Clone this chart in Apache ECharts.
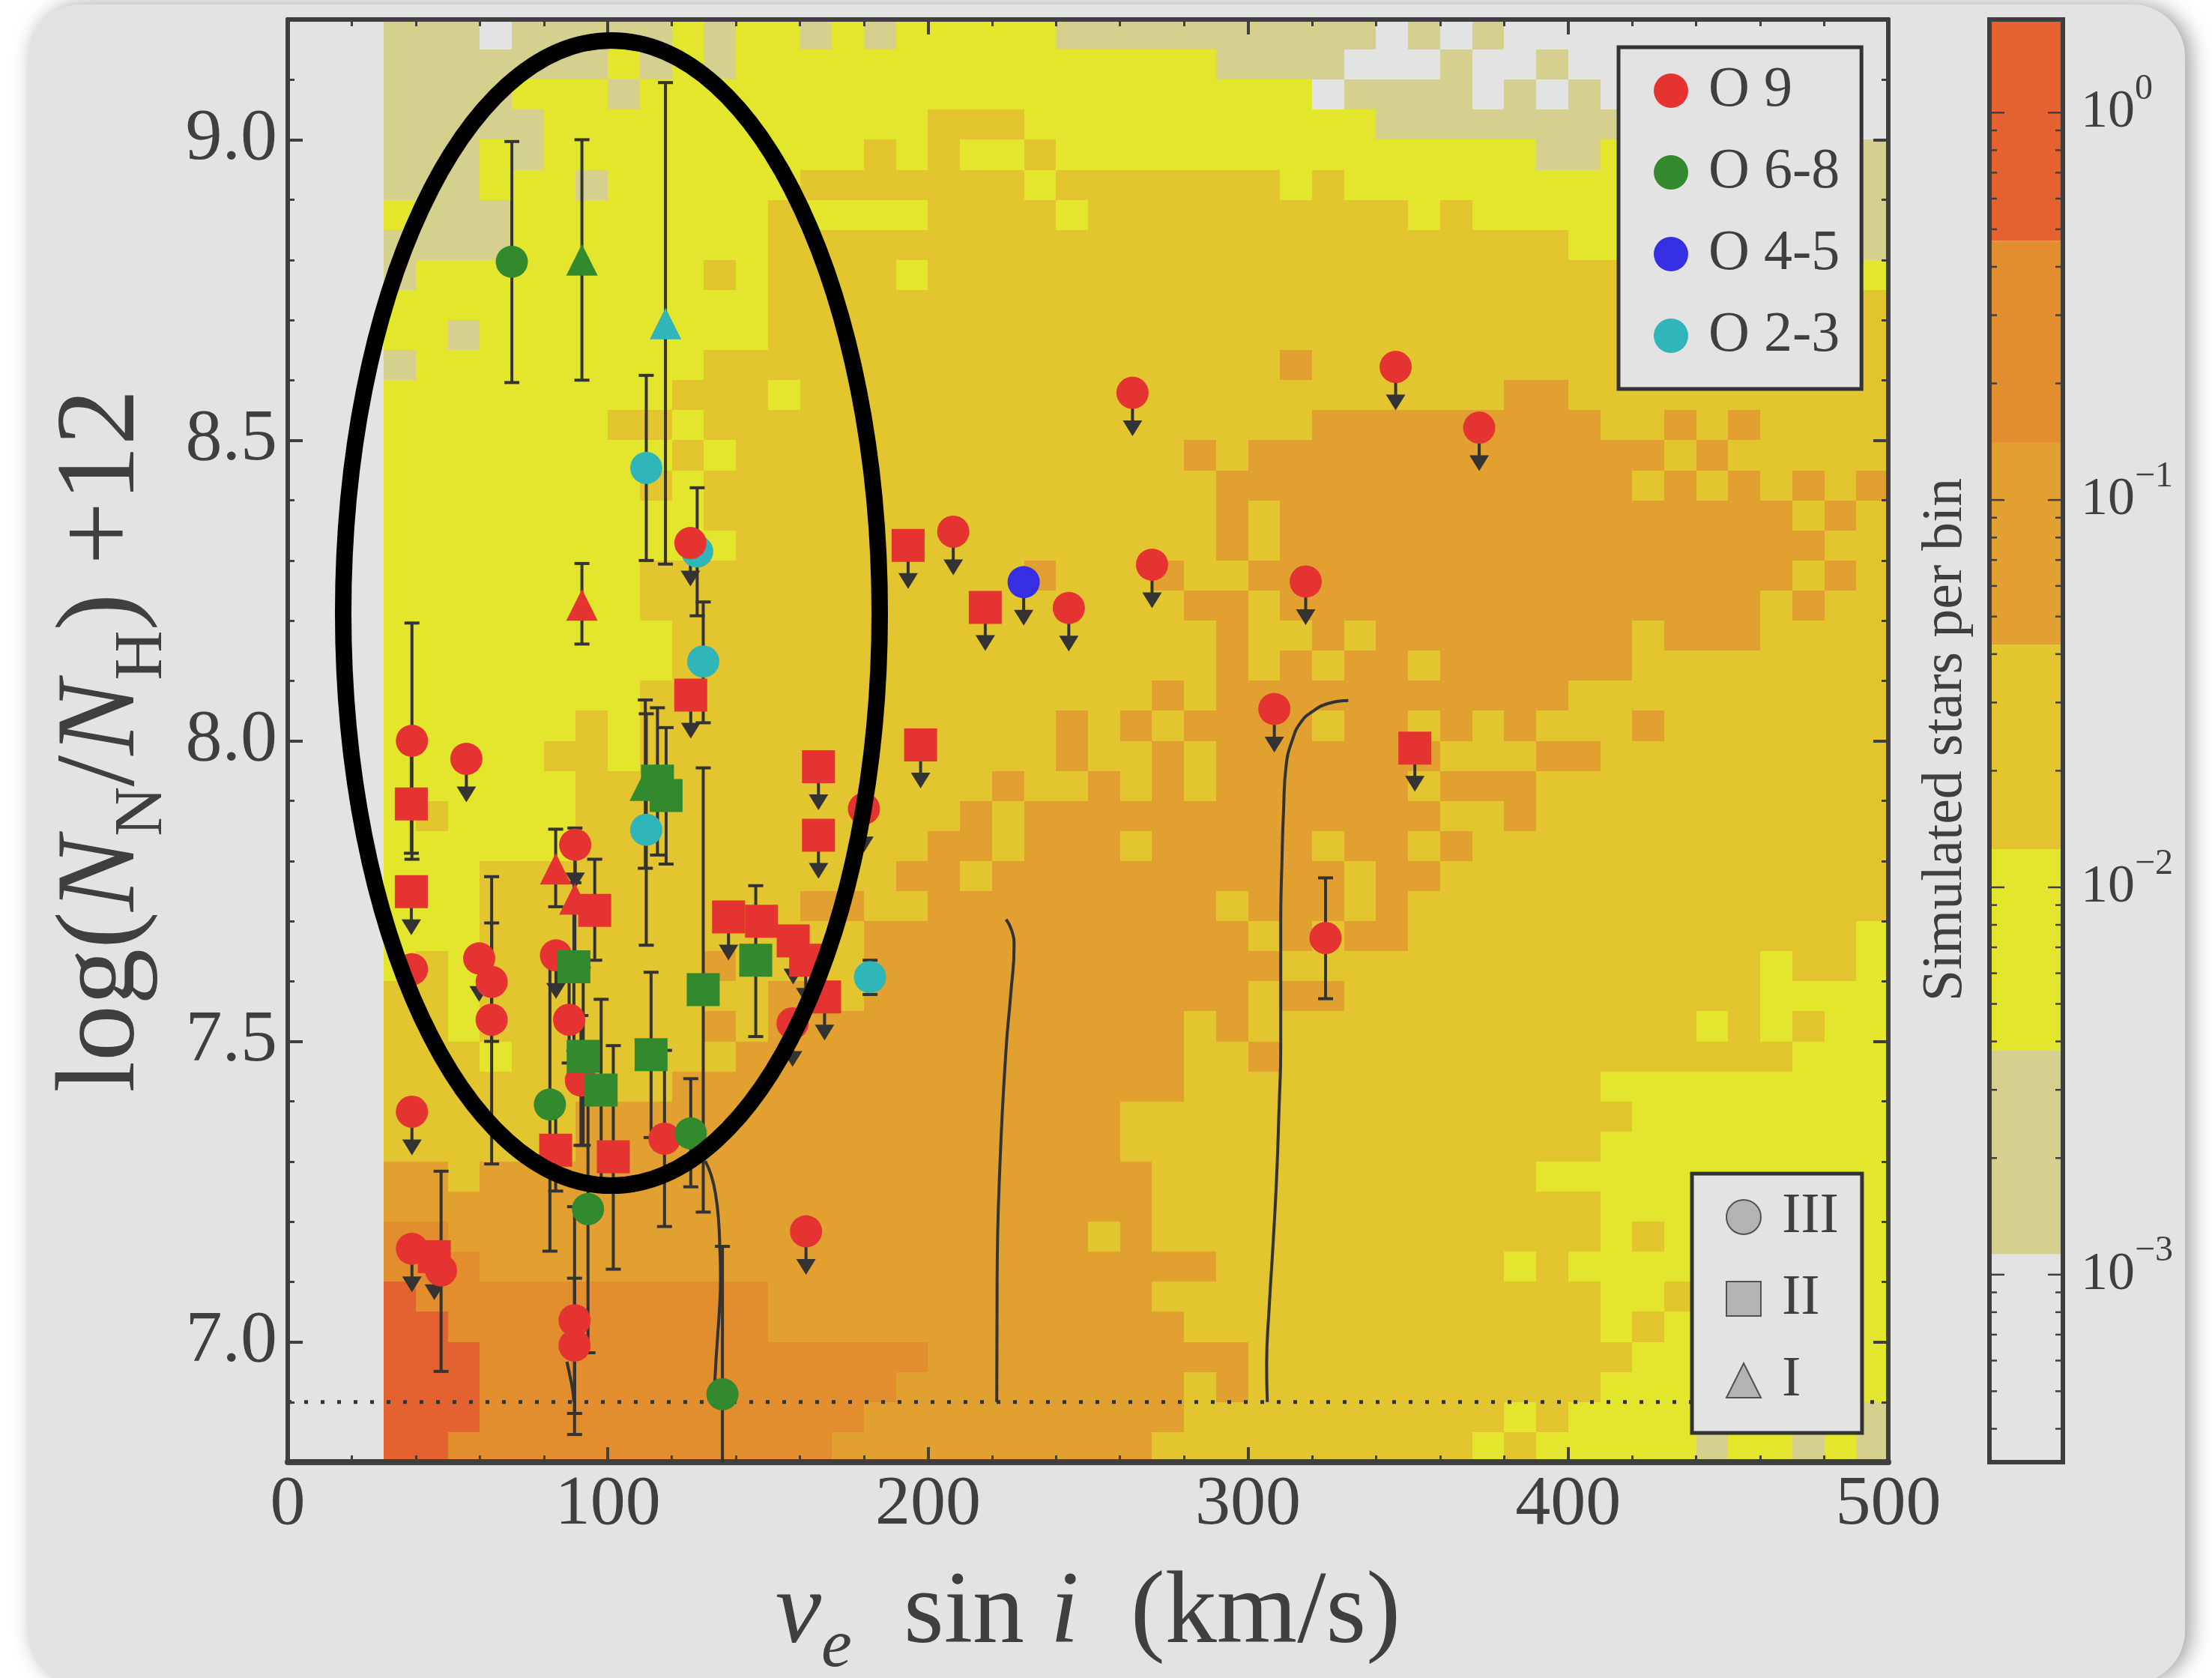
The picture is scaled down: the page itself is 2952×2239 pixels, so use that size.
<!DOCTYPE html>
<html>
<head>
<meta charset="utf-8">
<title>Nitrogen abundance versus projected rotation</title>
<style>html,body{margin:0;padding:0;background:#fff}#c{width:2952px;height:2239px}</style>
<script src="https://cdn.jsdelivr.net/npm/echarts@6/dist/echarts.min.js"></script>
</head>
<body>
<div id="c"></div>
<script>
// ---- histogram: one string per row, top row first; tokens are level:endColumn
const binX0 = 30, binDX = 10, binYTop = 9.2, binDY = 0.05;
const histogramRows = [
"1:3 0:4 1:9 2:10 1:11 2:13 1:14 2:15 1:16 2:21 1:31 0:32 1:33 0:34 1:35 0:47",
"1:7 2:8 1:9 2:10 1:11 2:26 1:30 0:33 1:34 0:36 1:37 0:47",
"1:4 2:7 1:8 2:29 0:30 1:34 0:35 1:36 0:37 1:38 0:47",
"1:5 2:17 3:20 2:31 1:40 0:47",
"1:3 2:4 1:5 2:15 3:16 2:17 3:18 2:20 3:21 2:36 1:38 2:46 1:47",
"1:3 2:6 1:7 2:13 3:20 2:21 3:28 2:29 3:30 2:46 1:47",
"2:1 1:4 2:12 3:13 2:17 3:21 2:22 3:32 2:33 3:34 2:46 1:47",
"1:4 2:12 3:37 2:46 1:47",
"1:1 2:10 3:11 2:12 3:16 2:17 3:46 2:47",
"2:12 3:47",
"2:2 1:3 2:12 3:47",
"1:1 2:10 3:28 4:29 3:47",
"2:9 3:12 2:13 3:35 4:37 3:47",
"2:7 3:9 2:10 3:29 4:38 3:40 4:41 3:42 4:43 3:47",
"2:9 3:10 2:11 3:25 4:26 3:27 4:40 3:41 4:42 3:47",
"2:8 3:9 2:10 3:26 4:39 3:40 4:41 3:42 4:43 3:44 4:45 3:46 4:47",
"2:10 3:26 4:27 3:28 4:44 3:45 4:46 3:47",
"2:11 3:26 4:27 3:28 4:45 3:47",
"2:8 3:20 4:21 3:24 4:25 3:27 4:44 3:45 4:46 3:47",
"2:8 3:25 4:27 3:28 4:43 3:44 4:45 3:47",
"2:9 3:26 4:27 3:29 4:30 3:31 4:39 3:40 4:43 3:47",
"2:9 3:26 4:27 3:28 4:29 3:30 4:32 3:33 4:39 3:47",
"2:8 3:24 4:25 3:26 4:37 3:47",
"2:6 3:7 2:8 3:21 4:22 3:23 4:24 3:25 4:29 3:30 4:32 3:33 4:34 3:35 4:36 3:39 4:40 3:47",
"2:5 3:7 2:8 3:21 4:22 3:24 4:25 3:26 4:33 3:36 4:38 3:47",
"2:6 3:19 4:20 3:22 4:23 3:24 4:25 3:26 4:32 3:33 4:36 3:47",
"2:1 3:2 2:6 3:18 4:19 3:20 4:33 3:35 4:36 3:47",
"2:6 3:17 4:19 3:20 4:23 3:24 4:29 3:30 4:32 3:33 4:34 3:47",
"2:3 3:16 4:18 3:19 4:30 3:31 4:33 3:47",
"2:3 3:13 4:15 3:17 4:26 3:27 4:30 3:31 4:32 3:47",
"2:3 3:15 4:27 3:28 4:29 3:30 4:32 3:46 2:47",
"2:1 3:2 2:3 3:10 4:11 3:15 4:28 3:43 2:44 3:46 2:47",
"3:2 2:3 3:12 4:14 3:15 4:27 3:28 4:30 3:43 2:47",
"3:2 2:3 3:10 4:11 3:12 4:25 3:26 4:27 3:41 2:42 3:43 2:44 3:45 2:47",
"3:3 2:4 3:11 4:25 3:27 4:28 3:44 2:47",
"3:9 4:25 3:38 2:47",
"3:6 4:23 3:39 2:47",
"3:6 4:23 3:38 2:47",
"4:2 3:3 4:24 3:36 2:47",
"4:24 3:38 2:47",
"5:2 4:22 3:23 4:24 3:38 2:39 3:40 2:47",
"5:3 4:26 3:35 2:36 3:37 2:47",
"6:1 5:12 4:24 3:38 2:40 3:41 2:47",
"6:2 5:12 4:25 3:38 2:39 3:40 2:47",
"6:3 5:17 4:27 3:39 2:47",
"6:3 5:16 4:25 3:26 4:27 3:38 2:47",
"6:3 5:15 4:25 3:35 2:36 3:37 2:46 1:47",
"6:2 5:14 4:24 3:34 2:35 3:36 2:41 1:42 2:44 1:45 2:46 1:47"
];
const levelColors = [null, '#d6d08e', '#e4e62e', '#e2c52f', '#e2a030', '#e38e2e', '#e4622f'];

// ---- stars: [vsini, logN, low, high] or [vsini, logN, null, null, 1] for an upper limit
const L = 1;
const o9_III = [
 [38.8,8.0,7.803,8.196],[55.8,7.97,null,null,L],[38.8,7.62],[59.8,7.638,null,null,L],
 [63.7,7.599,7.5,7.697],[63.7,7.536,7.296,7.774],[89.8,7.827,null,null,L],[83.8,7.643,null,null,L],
 [87.9,7.536,7.464,7.608],[91.6,7.435,7.327,7.543],[38.8,7.383,null,null,L],[117.7,7.338,7.192,7.485],
 [47.9,7.119,6.951,7.284],[38.8,7.155,null,null,L],[161.9,7.184,null,null,L],[89.6,7.036,6.846,7.225],
 [89.6,6.994,6.881,7.106],[125.8,8.329,null,null,L],[207.9,8.348,null,null,L],[157.7,7.53,null,null,L],
 [180,7.887,null,null,L],[244,8.221,null,null,L],[270,8.293,null,null,L],[318,8.265,null,null,L],
 [308.2,8.053,null,null,L],[324.2,7.672,7.571,7.772],[263.9,8.579,null,null,L],[346.1,8.622,null,null,L],
 [372.2,8.521,null,null,L]
];
const o9_II = [
 [38.6,7.895,7.813,7.98],[38.6,7.749,null,null,L],[95.9,7.718,7.635,7.803],[83.7,7.319,7.251,7.39],
 [101.7,7.308,7.121,7.493],[125.9,8.076,null,null,L],[137.7,7.707,null,null,L],[148,7.7],
 [157.9,7.667,null,null,L],[161.8,7.635,null,null,L],[167.7,7.574,null,null,L],[165.8,7.957,null,null,L],
 [165.8,7.843,null,null,L],[197.7,7.993,null,null,L],[193.8,8.325,null,null,L],[217.9,8.222,null,null,L],
 [352.1,7.988,null,null,L],[45.8,7.142,null,null,L]
];
const o9_I = [[91.9,8.226,8.161,8.295],[83.7,7.787,7.724,7.853],[89.7,7.737,7.62,7.855]];
const o68_III = [[70,8.797,8.596,8.997],[81.9,7.395,7.151,7.639],[93.8,7.221,6.982,7.46],[135.8,6.913,6.667,7.159],[125.9,7.347,7.258,7.438]];
const o68_II = [[115.5,7.933,7.81,8.055],[118.2,7.909,7.795,8.022],[129.8,7.586,7.216,7.955],[146.2,7.635,7.508,7.759],[89.4,7.624,7.484,7.764],[92.3,7.475,7.327,7.623],[113.5,7.478,7.34,7.615],[97.9,7.419,7.268,7.57]];
const o68_I = [[91.9,8.8,8.6,9.0],[111.7,7.926,7.788,8.068]];
const o45_III = [[229.9,8.264,null,null,L]];
const o23_III = [[112,8.454,8.30,8.608],[127.9,8.315,8.208,8.421],[129.8,8.132,8.03,8.231],[112,7.852,7.66,8.045],[181.9,7.607,7.578,7.635]];
const o23_I = [[118,8.694,8.294,9.095]];

// ---- model tracks and the detection floor
const track1 = [[87.2,6.967],[88.3,6.94],[89,6.92],[89.4,6.9]];
const track2 = [[130.4,7.301],[132.3,7.277],[133.7,7.244],[134.6,7.201],[135,7.153],[135.2,7.105],[134.9,7.058],[134.3,7.01],[133.7,6.962],[133.1,6.9]];
const track3 = [[224.4,7.703],[226.2,7.684],[226.9,7.658],[225.9,7.581],[224.4,7.487],[222.5,7.296],[221.6,7.105],[221.5,6.9]];
const track4 = [[331.3,8.067],[325,8.062],[319.9,8.048],[316.5,8.031],[314,8.004],[311.9,7.959],[311.1,7.887],[310.6,7.803],[310.2,7.692],[310.2,7.487],[309.7,7.392],[308.9,7.272],[307.7,7.153],[306.6,7.058],[305.8,6.962],[306,6.9]];
const floorLine = [[0,6.9],[500,6.9]];

// ---- ticks and colour bar
const yMajorTicks = [7.0,7.5,8.0,8.5,9.0];
const cbarEdges = [1.74,0.467,0.141,0.0423,0.01255,0.0038,0.00113,0.000328];
const cbarLevels = [6,5,4,3,2,1,0];
const cbarMajor = [1,0.1,0.01,0.001];
const cbarMinor = [0.9,0.8,0.7,0.6,0.5,0.4,0.3,0.2,0.09,0.08,0.07,0.06,0.05,0.04,0.03,0.02,0.009,0.008,0.007,0.006,0.005,0.004,0.003,0.002,0.0009,0.0008,0.0007,0.0006,0.0005,0.0004];

const SERIF = '"Liberation Serif","Times New Roman",serif';
const INK = '#3f3f3f', DARK = '#333333', BG = '#e3e3e3';
const RED = '#e53331', GREEN = '#338a2e', BLUE = '#352ee3', TEAL = '#30b5b8';

const cells = [];
histogramRows.forEach(function (row, j) {
  let start = 0;
  row.split(' ').forEach(function (tok) {
    const p = tok.split(':'), lev = +p[0], end = +p[1];
    for (let c = start; c < end; c++) if (lev > 0) cells.push([binX0 + c * binDX, binYTop - j * binDY, lev]);
    start = end;
  });
});

function renderCell(params, api) {
  const x = api.value(0), y = api.value(1);
  const a = api.coord([x, y]), b = api.coord([x + binDX, y - binDY]);
  const x0 = Math.round(a[0]), y0 = Math.round(a[1]);
  return { type: 'rect', shape: { x: x0, y: y0, width: Math.round(b[0]) - x0, height: Math.round(b[1]) - y0 },
           style: { fill: levelColors[api.value(2)] } };
}

const allStars = [].concat(o23_III, o23_I, o9_III, o68_III, o9_I, o68_I, o45_III, o9_II, o68_II);
function renderBars(params, api) {
  const s = allStars[params.dataIndex];
  const c = api.coord([s[0], s[1]]);
  const line = { stroke: DARK, lineWidth: 4 };
  const kids = [];
  if (s[4]) {
    kids.push({ type: 'line', shape: { x1: c[0], y1: c[1], x2: c[0], y2: c[1] + 42 }, style: { stroke: DARK, lineWidth: 4 } });
    kids.push({ type: 'polygon', shape: { points: [[c[0] - 13, c[1] + 37], [c[0] + 13, c[1] + 37], [c[0], c[1] + 58]] }, style: { fill: DARK } });
  } else if (s[2] != null) {
    const lo = api.coord([s[0], s[2]]), hi = api.coord([s[0], s[3]]);
    kids.push({ type: 'line', shape: { x1: c[0], y1: lo[1], x2: c[0], y2: hi[1] }, style: line });
    kids.push({ type: 'line', shape: { x1: c[0] - 10, y1: lo[1], x2: c[0] + 10, y2: lo[1] }, style: line });
    kids.push({ type: 'line', shape: { x1: c[0] - 10, y1: hi[1], x2: c[0] + 10, y2: hi[1] }, style: line });
  }
  return { type: 'group', children: kids };
}

function starSeries(name, data, symbol, size, color, z) {
  return { type: 'scatter', name: name, xAxisIndex: 0, yAxisIndex: 0, symbol: symbol, symbolSize: size,
           data: data.map(function (p) { return [p[0], p[1]]; }), itemStyle: { color: color, opacity: 1 }, z: z,
           silent: true, animation: false };
}
function trackSeries(data) {
  return { type: 'line', xAxisIndex: 0, yAxisIndex: 0, data: data, showSymbol: false, symbol: 'none', smooth: true,
           lineStyle: { color: DARK, width: 4 }, z: 3, silent: true, animation: false };
}
function classSeries(name, symbol) {
  return { type: 'scatter', name: name, xAxisIndex: 0, yAxisIndex: 0, symbol: symbol, data: [],
           itemStyle: { color: '#a6a6a6', borderColor: DARK, borderWidth: 4 } };
}
function mainY(position, major, withLabels) {
  const y = { type: 'value', gridIndex: 0, position: position, min: 6.8, max: 9.2, z: 4, splitLine: { show: false },
              axisLine: { show: true, onZero: false, lineStyle: { color: INK, width: 6 } } };
  if (major) {
    y.axisTick = { show: true, inside: true, length: 20, customValues: yMajorTicks, lineStyle: { color: INK, width: 4 } };
    y.axisLabel = withLabels ? { show: true, customValues: yMajorTicks, margin: 14, color: INK, fontFamily: SERIF, fontSize: 98,
                                 formatter: function (v) { return v.toFixed(1); } } : { show: false };
  } else {
    y.interval = 0.1;
    y.axisTick = { show: true, inside: true, length: 9, lineStyle: { color: INK, width: 3 } };
    y.axisLabel = { show: false };
  }
  return y;
}

const yTitle = mainY('left', true, true);
yTitle.name = '{a|log(}{i|N}{s|N}{a|/}{i|N}{s|H}{a|) +12}';
yTitle.nameLocation = 'middle';
yTitle.nameRotate = 90;
yTitle.nameGap = 142;
yTitle.nameTextStyle = { rich: {
  a: { fontFamily: SERIF, fontSize: 150, color: INK, lineHeight: 196, verticalAlign: 'middle' },
  i: { fontFamily: SERIF, fontSize: 150, fontStyle: 'italic', color: INK, lineHeight: 196, verticalAlign: 'middle' },
  s: { fontFamily: SERIF, fontSize: 92, color: INK, lineHeight: 66, verticalAlign: 'bottom' }
} };

const option = {
  animation: false,
  backgroundColor: '#ffffff',
  grid: [
    { left: 384, top: 26, width: 2136, height: 1925, containLabel: false, outerBoundsMode: 'none' },
    { left: 2655, top: 26, width: 98, height: 1925, containLabel: false, outerBoundsMode: 'none' }
  ],
  legend: [
    { orient: 'vertical', left: 2160, top: 63, padding: [20, 29, 33, 47], itemWidth: 46, itemHeight: 46, itemGap: 33,
      backgroundColor: BG, borderColor: DARK, borderWidth: 5, selectedMode: false, z: 9,
      textStyle: { fontFamily: SERIF, fontSize: 76, color: INK, padding: [0, 0, 0, 22] },
      data: [{ name: 'O 9', icon: 'circle' }, { name: 'O 6-8', icon: 'circle' }, { name: 'O 4-5', icon: 'circle' }, { name: 'O 2-3', icon: 'circle' }] },
    { orient: 'vertical', left: 2258, top: 1566, padding: [20, 31, 32, 45], itemWidth: 46, itemHeight: 46, itemGap: 33,
      backgroundColor: BG, borderColor: DARK, borderWidth: 5, selectedMode: false, z: 9,
      textStyle: { fontFamily: SERIF, fontSize: 76, color: INK, padding: [0, 0, 0, 23] },
      data: [{ name: 'III', icon: 'circle' }, { name: 'II', icon: 'rect' }, { name: 'I', icon: 'triangle' }] }
  ],
  xAxis: [
    { type: 'value', gridIndex: 0, position: 'bottom', min: 0, max: 500, interval: 100, z: 4, splitLine: { show: false },
      axisLine: { show: true, onZero: false, lineStyle: { color: INK, width: 8 } },
      axisTick: { show: true, inside: true, length: 20, lineStyle: { color: INK, width: 4 } },
      minorTick: { show: true, splitNumber: 5, length: 9, lineStyle: { color: INK, width: 3 } },
      axisLabel: { margin: 10, color: INK, fontFamily: SERIF, fontSize: 94, showMinLabel: true, showMaxLabel: true },
      name: '{i|v}{e|e}{a|  sin }{i|i}{a|  (km/s)}', nameLocation: 'middle', nameGap: 114,
      nameTextStyle: { rich: {
        a: { fontFamily: SERIF, fontSize: 138, color: INK, lineHeight: 180, verticalAlign: 'middle' },
        i: { fontFamily: SERIF, fontSize: 138, fontStyle: 'italic', color: INK, lineHeight: 180, verticalAlign: 'middle' },
        e: { fontFamily: SERIF, fontSize: 92, fontStyle: 'italic', color: INK, lineHeight: 60, verticalAlign: 'bottom' }
      } } },
    { type: 'value', gridIndex: 0, position: 'top', min: 0, max: 500, interval: 100, z: 4, splitLine: { show: false },
      axisLine: { show: true, onZero: false, lineStyle: { color: INK, width: 6 } },
      axisTick: { show: true, inside: true, length: 20, lineStyle: { color: INK, width: 4 } },
      minorTick: { show: true, splitNumber: 5, length: 9, lineStyle: { color: INK, width: 3 } },
      axisLabel: { show: false } },
    { type: 'value', gridIndex: 1, min: 0, max: 1, show: false }
  ],
  yAxis: [
    mainY('left', false, false),
    yTitle,
    mainY('right', false, false),
    mainY('right', true, false),
    { type: 'log', logBase: 10, gridIndex: 1, position: 'right', min: 0.000328, max: 1.74, z: 4,
      splitLine: { show: false }, axisLine: { show: false }, axisTick: { show: false }, minorTick: { show: false },
      axisLabel: { show: true, margin: 24, showMinLabel: false, showMaxLabel: false, align: 'left',
        formatter: function (v) {
          const e = Math.round(Math.log10(v));
          return '{b|10}{t|' + (e < 0 ? '\u2212' + (-e) : e) + '}';
        },
        rich: {
          b: { fontFamily: SERIF, fontSize: 72, color: INK, lineHeight: 110, verticalAlign: 'middle' },
          t: { fontFamily: SERIF, fontSize: 48, color: INK, lineHeight: 40, verticalAlign: 'top' }
        } } }
  ],
  graphic: [
    { type: 'rect', z: -10, silent: true, shape: { x: 37, y: 6, width: 2879, height: 2240, r: 70 },
      style: { fill: BG, shadowBlur: 28, shadowColor: 'rgba(0,0,0,0.38)', shadowOffsetX: 8, shadowOffsetY: 0 } },
    { type: 'ellipse', z: 50, silent: true, shape: { cx: 816, cy: 818, rx: 358, ry: 764 },
      style: { fill: 'none', stroke: '#000000', lineWidth: 22 } },
    { type: 'text', z: 6, silent: true, x: 2597, y: 987, rotation: Math.PI / 2,
      style: { text: 'Simulated stars per bin', fontFamily: SERIF, fontSize: 76, fill: INK, align: 'center', verticalAlign: 'middle' } }
  ],
  series: [
    { type: 'custom', xAxisIndex: 0, yAxisIndex: 0, data: cells, renderItem: renderCell, encode: { x: 0, y: 1 }, z: 1, silent: true, clip: true, animation: false },
    { type: 'line', xAxisIndex: 0, yAxisIndex: 0, data: floorLine, showSymbol: false, symbol: 'none', z: 3, silent: true, animation: false,
      lineStyle: { color: DARK, width: 5, type: [5, 17] } },
    trackSeries(track1), trackSeries(track2), trackSeries(track3), trackSeries(track4),
    { type: 'custom', xAxisIndex: 0, yAxisIndex: 0, data: allStars.map(function (s) { return [s[0], s[1]]; }), renderItem: renderBars,
      encode: { x: 0, y: 1 }, z: 5, silent: true, clip: true, animation: false },
    starSeries('O 2-3', o23_III, 'circle', 43, TEAL, 6),
    starSeries('O 2-3', o23_I, 'triangle', 42, TEAL, 6),
    starSeries('O 9', o9_III, 'circle', 43, RED, 7),
    starSeries('O 6-8', o68_III, 'circle', 43, GREEN, 8),
    starSeries('O 9', o9_I, 'triangle', 42, RED, 8),
    starSeries('O 6-8', o68_I, 'triangle', 42, GREEN, 8),
    starSeries('O 4-5', o45_III, 'circle', 43, BLUE, 8),
    starSeries('O 9', o9_II, 'rect', 44, RED, 9),
    starSeries('O 6-8', o68_II, 'rect', 44, GREEN, 10),
    classSeries('III', 'circle'), classSeries('II', 'rect'), classSeries('I', 'triangle'),
    { type: 'custom', xAxisIndex: 2, yAxisIndex: 4, silent: true, animation: false, z: 2,
      data: cbarLevels.map(function (lev, i) { return [i]; }), encode: { x: -1, y: -1 },
      renderItem: function (params, api) {
        const i = params.dataIndex, lev = cbarLevels[i];
        if (!lev) return { type: 'group', children: [] };
        const a = api.coord([0, cbarEdges[i]]), b = api.coord([1, cbarEdges[i + 1]]);
        return { type: 'rect', shape: { x: a[0], y: a[1], width: b[0] - a[0], height: b[1] - a[1] }, style: { fill: levelColors[lev] } };
      } },
    { type: 'custom', xAxisIndex: 2, yAxisIndex: 4, silent: true, animation: false, z: 4,
      data: cbarMajor.concat(cbarMinor).map(function (v) { return [v]; }), encode: { x: -1, y: -1 },
      renderItem: function (params, api) {
        const v = api.value(0), len = cbarMajor.indexOf(v) >= 0 ? 20 : 10;
        const a = api.coord([0, v]), b = api.coord([1, v]);
        const st = { stroke: INK, lineWidth: 2.5 };
        return { type: 'group', children: [
          { type: 'line', shape: { x1: a[0], y1: a[1], x2: a[0] + len, y2: a[1] }, style: st },
          { type: 'line', shape: { x1: b[0] - len, y1: b[1], x2: b[0], y2: b[1] }, style: st }
        ] };
      } },
    { type: 'custom', xAxisIndex: 2, yAxisIndex: 4, silent: true, animation: false, z: 5,
      data: [[0]], encode: { x: -1, y: -1 },
      renderItem: function (params, api) {
        const a = api.coord([0, cbarEdges[0]]), b = api.coord([1, cbarEdges[cbarEdges.length - 1]]);
        return { type: 'rect', shape: { x: a[0], y: a[1], width: b[0] - a[0], height: b[1] - a[1] },
                 style: { fill: 'none', stroke: INK, lineWidth: 6 } };
      } }
  ]
};
const chart = echarts.init(document.getElementById('c'), null, { renderer: 'canvas', width: 2952, height: 2239 });
chart.setOption(option);
</script>
</body>
</html>
